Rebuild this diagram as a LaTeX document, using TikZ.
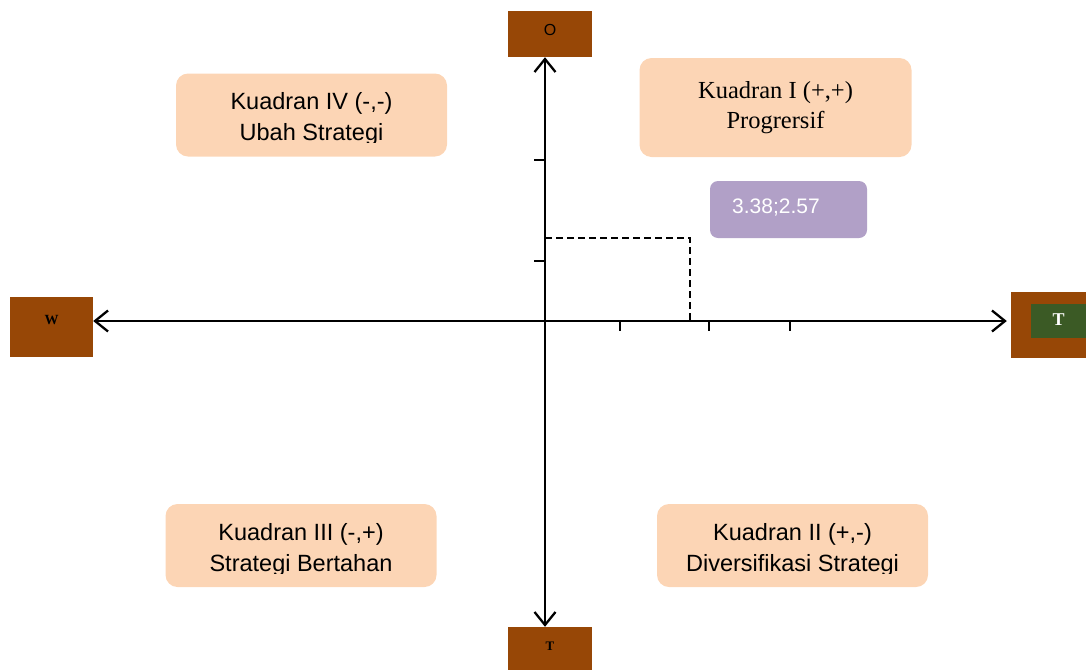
\documentclass[tikz,border=0pt]{standalone}
\usepackage{fontspec}
\setmainfont{Liberation Sans}
\newfontfamily\serifa{Liberation Serif}
\usetikzlibrary{arrows.meta}
\definecolor{marron}{HTML}{974706}
\definecolor{verde}{HTML}{3B5A25}
\definecolor{durazno}{HTML}{FCD5B5}
\definecolor{lila}{HTML}{B1A0C7}

\begin{document}
\begin{tikzpicture}[x=1pt, y=-1pt,
  caja/.style={fill=durazno, rounded corners=12pt, minimum width=271pt, minimum height=83pt, inner sep=0pt},
  texto/.style={align=center, font=\fontsize{23.5}{31}\selectfont, inner sep=0pt},
  marca/.style={fill=marron, inner sep=0pt},
  eje/.style={line width=2.3pt, {Straight Barb[length=13pt,width=21pt]}-{Straight Barb[length=13pt,width=21pt]}},
  rayita/.style={line width=1.7pt},
  discontinua/.style={line width=1.4pt, dash pattern=on 7pt off 4pt}]
\useasboundingbox (0,0) rectangle (1086,670);

% Cuadrantes
\node[caja] (q4) at (311.5,115) {};
\begin{scope}
\clip (q4.north west) rectangle ([yshift=14pt]q4.south east);
\node[texto] (t4) at ([yshift=-4pt]q4.center) {Kuadran IV (-,-)\\Ubah Strategi};
\end{scope}

\node[caja, minimum width=272pt, minimum height=99pt, align=center, font=\serifa\fontsize{24.5}{30}\selectfont] (q1) at (775.5,107.5) {Kuadran I (+,+)\\Progrersif};

\node[caja] (q3) at (301,545.5) {};
\begin{scope}
\clip (q3.north west) rectangle ([yshift=14pt]q3.south east);
\node[texto] (t3) at ([yshift=-4pt]q3.center) {Kuadran III (-,+)\\Strategi Bertahan};
\end{scope}

\node[caja] (q2) at (792.5,545.5) {};
\begin{scope}
\clip (q2.north west) rectangle ([yshift=14pt]q2.south east);
\node[texto] (t2) at ([yshift=-4pt]q2.center) {Kuadran II (+,-)\\Diversifikasi Strategi};
\end{scope}

% Valor del punto
\node[fill=lila, rounded corners=8pt, minimum width=157pt, minimum height=57pt] (valor) at (788.5,209.5) {};
\node[anchor=base west, text=white, font=\fontsize{21}{24}\selectfont, inner sep=0pt] (tvalor) at (732,213) {3.38;2.57};

% Extremos de los ejes
\node[marca, minimum width=84pt, minimum height=46pt, font=\fontsize{16}{18}\selectfont] (O) at (550,34) {\raisebox{-2.5pt}{\smash{O}}};
\node[marca, minimum width=84pt, minimum height=43pt, font=\serifa\bfseries\fontsize{13}{16}\selectfont] (Tab) at (550,648.5) {\raisebox{-4.5pt}{\smash{T}}};
\node[marca, minimum width=83pt, minimum height=60pt, font=\serifa\bfseries\fontsize{14}{16}\selectfont] (W) at (51.5,327) {\raisebox{5pt}{\smash{W}}};
\node[marca, minimum width=75pt, minimum height=66pt] (Tder) at (1048.5,325) {};
\node[fill=verde, inner sep=0pt, minimum width=55pt, minimum height=34pt, text=white, font=\serifa\bfseries\fontsize{18}{20}\selectfont] (Tverde) at (1058.5,321) {\raisebox{-8pt}{\smash{T}}};

% Ejes
\coordinate (origen) at (545,321);
\draw[eje] (O.south -| origen) -- (Tab.north -| origen);
\draw[eje, shorten >=4pt] (W.east |- origen) -- (Tder.west |- origen);

% Marcas de los ejes
\draw[rayita] (534,160) -- (545,160);
\draw[rayita] (534,261) -- (545,261);
\draw[rayita] (620,321) -- (620,331);
\draw[rayita] (709,321) -- (709,331);
\draw[rayita] (790,321) -- (790,331);

% Punto (3.38;2.57)
\coordinate (punto) at (690,238);
\draw[discontinua] (origen |- punto) -- (punto) -- (punto |- origen);
\end{tikzpicture}
\end{document}
